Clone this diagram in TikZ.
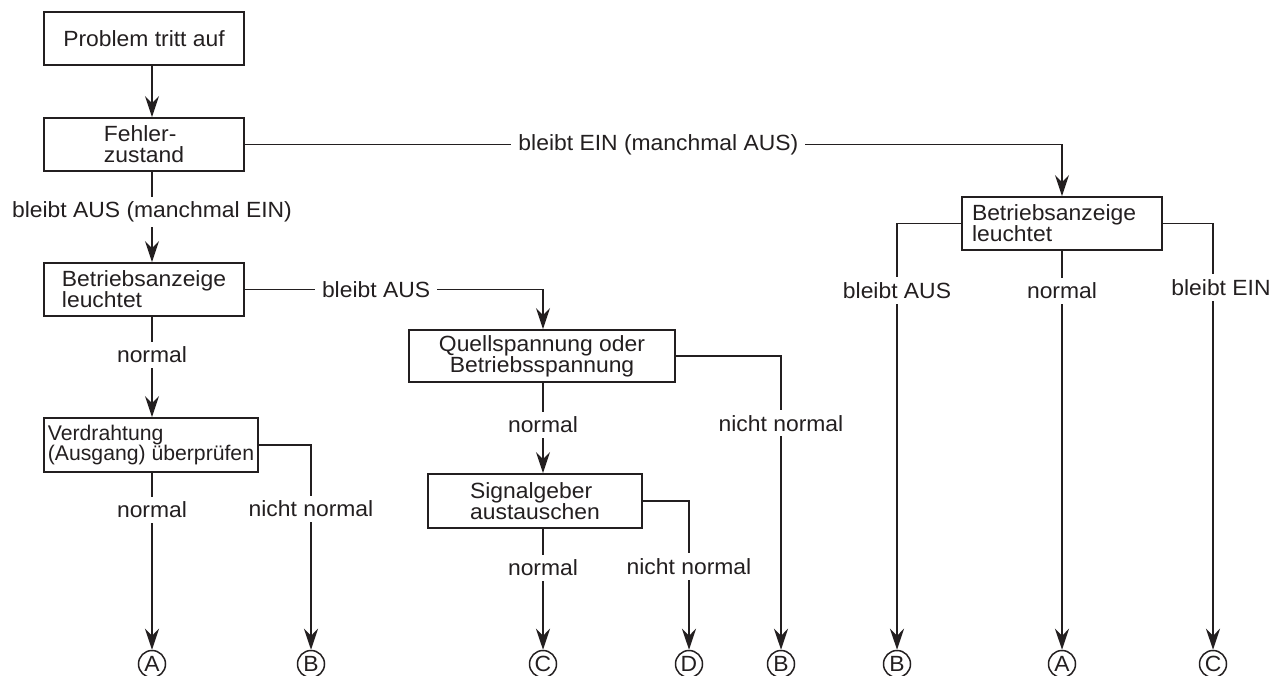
\documentclass[tikz,border=0pt]{standalone}
\usepackage{fontspec}
\setmainfont{Liberation Sans}[FakeStretch=1.04]
\newfontfamily\narrowfont{Liberation Sans}
\usetikzlibrary{arrows.meta}
\definecolor{ink}{HTML}{231F20}
\tikzset{
  every node/.style={font=\fontsize{22}{21}\selectfont, text=ink},
  box/.style={draw=ink, line width=1.8pt, inner sep=0pt, align=left},
  lbl/.style={fill=white, inner xsep=7pt, inner ysep=5pt},
  arr/.style={draw=ink, line width=1.7pt, -{Stealth[length=21pt,width=14pt,inset=7pt]}},
  circ/.style={draw=ink, circle, line width=1.5pt, inner sep=0pt, minimum size=27pt}
}
\begin{document}
\begin{tikzpicture}[x=1pt,y=-1pt]
\useasboundingbox (0,0) rectangle (1271,675);
% columns
\coordinate (cA) at (152,0);
\coordinate (cQ) at (543,0);
% boxes
\node[box, minimum width=200pt, minimum height=53pt, align=center] (b1) at (144,38.5) {Problem tritt auf};
\node[box, minimum width=200pt, minimum height=53pt] (b2) at (144,144.5) {Fehler-\\zustand};
\node[box, minimum width=200pt, minimum height=53pt] (b3) at (144,289.5) {Betriebsanzeige\\leuchtet};
\node[box, minimum width=214pt, minimum height=54pt, font=\narrowfont\fontsize{21.2}{20.5}\selectfont] (b4) at (151,445) {Verdrahtung\\(Ausgang) überprüfen};
\node[box, minimum width=266pt, minimum height=52pt, align=center] (bQ) at (542,356) {Quellspannung oder\\Betriebsspannung};
\node[box, minimum width=214pt, minimum height=54pt] (bS) at (535,501) {Signalgeber\\austauschen};
\node[box, text width=180pt, inner xsep=10pt, minimum height=53pt] (bR) at (1062,223.5) {Betriebsanzeige\\leuchtet};
% end circles
\node[circ] (oA1) at (152,664) {A};
\node[circ] (oB1) at (311,664) {B};
\node[circ] (oC1) at (543,664) {C};
\node[circ] (oD)  at (689,664) {D};
\node[circ] (oB2) at (781,664) {B};
\node[circ] (oB3) at (897,664) {B};
\node[circ] (oA2) at (1062,664) {A};
\node[circ] (oC2) at (1213,664) {C};
% connectors
\draw[arr] (b1.south -| cA) -- (b2.north -| cA);
\draw[arr] (b2.south -| cA) -- node[lbl, pos=0.446] {bleibt AUS (manchmal EIN)} (b3.north -| cA);
\draw[arr] (b2.east) -- node[lbl, pos=0.506] {bleibt EIN (manchmal AUS)} (b2.east -| bR.north) -- (bR.north);
\draw[arr] (b3.east) -- node[lbl, pos=0.44] {bleibt AUS} (b3.east -| cQ) -- (bQ.north -| cQ);
\draw[arr] (b3.south -| cA) -- node[lbl, pos=0.38] {normal} (b4.north -| cA);
\draw[arr] (b4.south -| cA) -- node[lbl, pos=0.21] {normal} (oA1.north);
\draw[arr] (b4.east) -- (b4.east -| oB1) -- node[lbl, pos=0.3125] {nicht normal} (oB1.north);
\draw[arr] (bQ.east) -- (bQ.east -| oB2) -- node[lbl, pos=0.229] {nicht normal} (oB2.north);
\draw[arr] (bQ.south -| cQ) -- node[lbl, pos=0.467] {normal} (bS.north -| cQ);
\draw[arr] (bS.south -| cQ) -- node[lbl, pos=0.32] {normal} (oC1.north);
\draw[arr] (bS.east) -- (bS.east -| oD) -- node[lbl, pos=0.44] {nicht normal} (oD.north);
\draw[arr] (bR.west) -- (bR.west -| oB3) -- node[lbl, pos=0.157] {bleibt AUS} (oB3.north);
\draw[arr] (bR.south) -- node[lbl, pos=0.10] {normal} (oA2.north);
\draw[arr] (bR.east) -- (bR.east -| oC2) -- node[lbl, pos=0.15, xshift=8pt] {bleibt EIN} (oC2.north);
\end{tikzpicture}
\end{document}
